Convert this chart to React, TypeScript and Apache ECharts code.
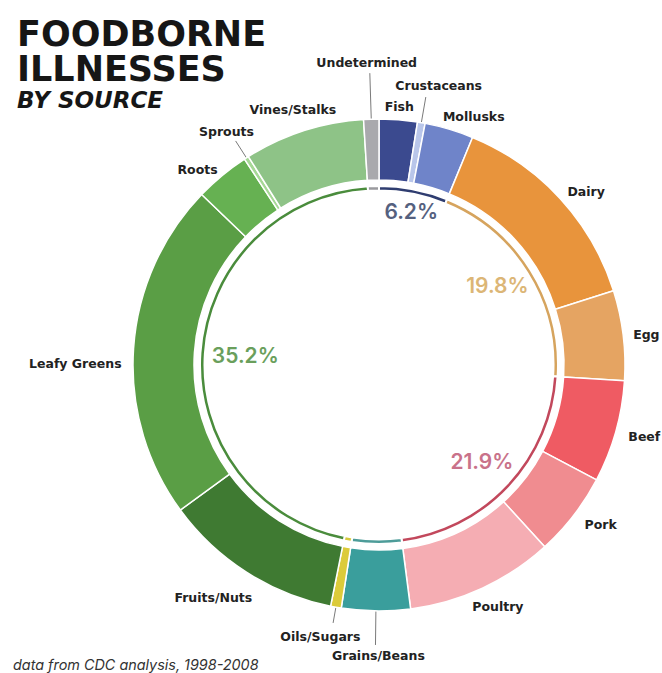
import React, { useEffect, useRef } from 'react';
import * as echarts from 'echarts';

// ---------- data ----------
const categories = [
  'Fish', 'Crustaceans', 'Mollusks', 'Dairy', 'Egg', 'Beef', 'Pork', 'Poultry',
  'Grains/Beans', 'Oils/Sugars', 'Fruits/Nuts', 'Leafy Greens', 'Roots', 'Sprouts',
  'Vines/Stalks', 'Undetermined',
];
const shares = [2.5, 0.5, 3.2, 13.9, 5.9, 6.7, 5.5, 9.7, 4.5, 0.7, 11.8, 22.2, 3.6, 0.3, 7.9, 1.0];
const categoryGroup = [
  'aquatic', 'aquatic', 'aquatic', 'dairyEgg', 'dairyEgg', 'meat', 'meat', 'meat',
  'grains', 'oils', 'produce', 'produce', 'produce', 'produce', 'produce', 'undetermined',
];
const groups = ['aquatic', 'dairyEgg', 'meat', 'grains', 'oils', 'produce', 'undetermined'];
const groupLabels = ['6.2%', '19.8%', '21.9%', '', '', '35.2%', ''];

// ---------- styles ----------
const categoryColors = [
  '#3b4a8f', '#b9c6ea', '#6f84c9', '#e8943c', '#e5a462', '#ef5b63', '#f08c90', '#f5adb3',
  '#3a9e9c', '#dccb3a', '#3f7a32', '#5a9e45', '#66b152', '#a6d896', '#8ec387', '#a9a9ad',
];
const groupColors = ['#2f3d70', '#d6a45e', '#c2485c', '#4d9c99', '#d6c93e', '#4a8c3c', '#9a9a9e'];
const groupTextColors = ['#55617f', '#dcb676', '#c9728a', '#000', '#000', '#6a9f5c', '#000'];

const CX = 379;
const CY = 365;
const R = 246;
const R0 = 185;

type LabelCfg = { d: number; align: string; v: string; dx: number; dy: number; line?: number };
const outerLabelCfg: LabelCfg[] = [
  { d: 13, align: 'center', v: 'middle', dx: 0, dy: 0 },
  { d: 31, align: 'center', v: 'bottom', dx: 12, dy: 0, line: 272 },
  { d: 13, align: 'left', v: 'middle', dx: -10, dy: 0 },
  { d: 10, align: 'left', v: 'middle', dx: 0, dy: 0 },
  { d: 10, align: 'left', v: 'middle', dx: 0, dy: 0 },
  { d: 10, align: 'left', v: 'middle', dx: 3, dy: 2 },
  { d: 14, align: 'left', v: 'middle', dx: 0, dy: 0 },
  { d: 20, align: 'center', v: 'middle', dx: 7, dy: 0 },
  { d: 38, align: 'center', v: 'top', dx: 3, dy: 0, line: 280 },
  { d: 20, align: 'center', v: 'top', dx: -12, dy: 3, line: 262 },
  { d: 30, align: 'right', v: 'middle', dx: 22, dy: 0 },
  { d: 12, align: 'right', v: 'middle', dx: 0, dy: 16 },
  { d: 10, align: 'right', v: 'middle', dx: 2, dy: 2 },
  { d: 24, align: 'center', v: 'bottom', dx: -7, dy: 0, line: 266 },
  { d: 22, align: 'center', v: 'middle', dx: -4, dy: 0 },
  { d: 50, align: 'center', v: 'bottom', dx: -3, dy: 0, line: 292 },
];
const groupLabelRadius = [156, 142, 141, 140, 140, 134, 140];
const groupLabelShift = [[2, 0], [-2, -4], [0, 0], [0, 0], [0, 0], [0, 0], [0, 0]];

function midAngles(values: number[]): number[] {
  const total = values.reduce((a, b) => a + b, 0);
  let acc = 0;
  return values.map((v) => {
    const start = acc;
    acc += v;
    return ((start + acc) / 2 / total) * 360;
  });
}

function polar(angleDeg: number, r: number): [number, number] {
  const a = (angleDeg * Math.PI) / 180;
  return [CX + Math.sin(a) * r, CY - Math.cos(a) * r];
}

const FONT = 'Inter, "Open Sans", "DejaVu Sans", sans-serif';
const WIDE = '"DejaVu Sans", Verdana, sans-serif';

export default function App() {
  const ref = useRef<HTMLDivElement>(null);

  useEffect(() => {
    document.body.style.margin = '0';
    if (!ref.current) return;
    const chart = echarts.init(ref.current, undefined, { renderer: 'svg' });

    const groupValues = groups.map((g) =>
      shares.reduce((s, v, i) => (categoryGroup[i] === g ? s + v : s), 0)
    );
    const catMid = midAngles(shares);
    const groupMid = midAngles(groupValues);

    const outerData = categories.map((name, i) => ({
      name,
      value: shares[i],
      itemStyle: { color: categoryColors[i] },
      labelLine: { show: outerLabelCfg[i].line !== undefined },
    }));

    const innerData = groups.map((g, i) => ({
      name: g,
      value: groupValues[i],
      itemStyle: { color: groupColors[i] },
      label: {
        show: groupLabels[i] !== '',
        color: groupTextColors[i],
      },
    }));

    chart.setOption({
      animation: false,
      backgroundColor: '#ffffff',
      title: [
        {
          text: 'FOODBORNE\nILLNESSES',
          left: 12,
          top: 11,
          textStyle: {
            fontFamily: WIDE,
            fontSize: 35,
            fontWeight: 'bold',
            lineHeight: 35,
            color: '#161616',
          },
          subtext: 'BY SOURCE',
          subtextStyle: {
            fontFamily: WIDE,
            fontSize: 23,
            fontWeight: 'bold',
            fontStyle: 'italic',
            color: '#161616',
          },
          itemGap: 2,
        },
        {
          text: 'data from CDC analysis, 1998-2008',
          left: 8,
          top: 652,
          textStyle: {
            fontFamily: FONT,
            fontSize: 14.4,
            fontWeight: 400,
            fontStyle: 'italic',
            color: '#333333',
          },
        },
      ],
      series: [
        {
          type: 'pie',
          center: [CX, CY],
          radius: [R0, R],
          startAngle: 90,
          clockwise: true,
          avoidLabelOverlap: false,
          minShowLabelAngle: 0,
          silent: true,
          itemStyle: { borderColor: '#ffffff', borderWidth: 1.5 },
          label: {
            show: true,
            position: 'outside',
            formatter: '{b}',
            fontFamily: WIDE,
            fontSize: 12.5,
            fontWeight: 'bold',
            color: '#222222',
          },
          labelLine: {
            show: false,
            length: 10,
            length2: 0,
            lineStyle: { color: '#7a7a7a', width: 1 },
          },
          labelLayout: (p: any) => {
            const i = p.dataIndex;
            const cfg = outerLabelCfg[i];
            const ang = catMid[i];
            const [x, y] = polar(ang, R + cfg.d);
            const out: any = {
              x: x + cfg.dx,
              y: y + cfg.dy,
              align: cfg.align,
              verticalAlign: cfg.v,
            };
            if (cfg.line !== undefined) {
              const p1 = polar(ang, R);
              const p2 = polar(ang, cfg.line);
              out.labelLinePoints = [p1, p2, p2];
            }
            return out;
          },
          data: outerData,
        },
        {
          type: 'pie',
          center: [CX, CY],
          radius: [174.5, 179],
          startAngle: 90,
          clockwise: true,
          avoidLabelOverlap: false,
          silent: true,
          itemStyle: { borderColor: '#ffffff', borderWidth: 2 },
          label: {
            show: true,
            position: 'inside',
            formatter: (p: any) => groupLabels[p.dataIndex],
            fontFamily: FONT,
            fontSize: 21,
            fontWeight: 600,
          },
          labelLine: { show: false },
          labelLayout: (p: any) => {
            const i = p.dataIndex;
            const [x, y] = polar(groupMid[i], groupLabelRadius[i]);
            return {
              x: x + groupLabelShift[i][0],
              y: y + groupLabelShift[i][1],
              align: 'center',
              verticalAlign: 'middle',
            };
          },
          data: innerData,
        },
      ],
    });

    return () => chart.dispose();
  }, []);

  return <div ref={ref} style={{ width: 662, height: 673 }} />;
}
